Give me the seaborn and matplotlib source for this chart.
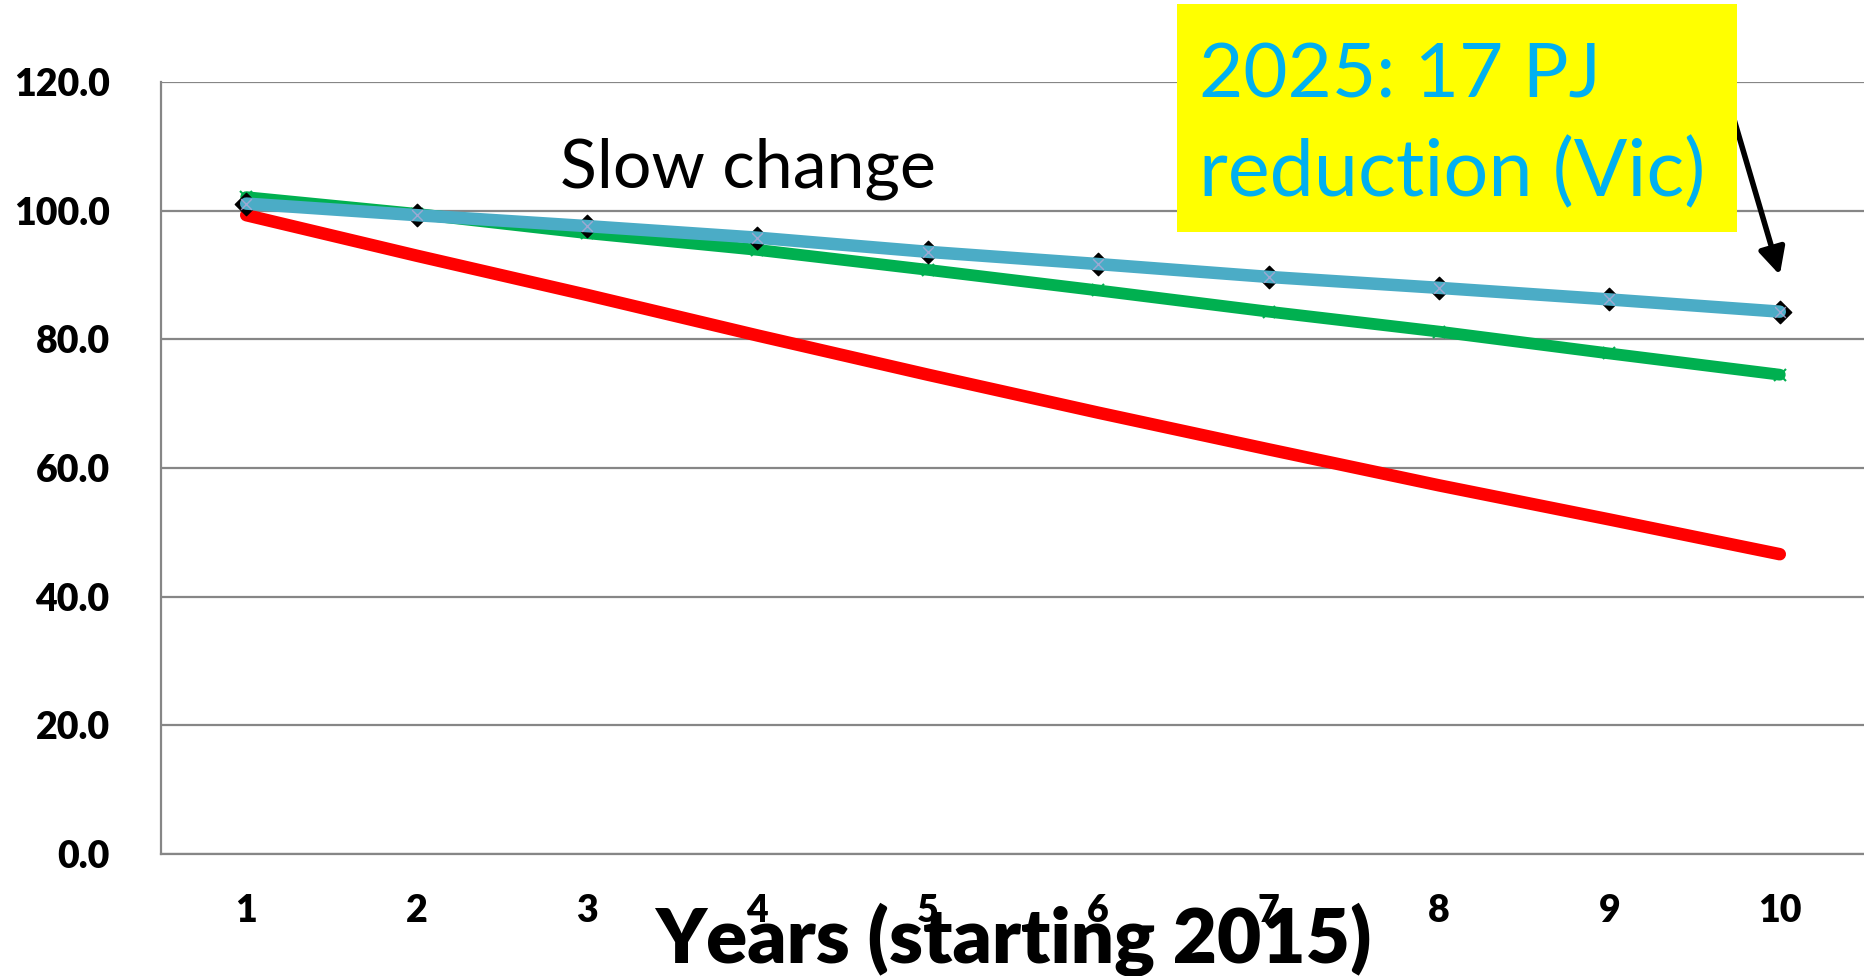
import numpy as np
import pandas as pd
import matplotlib
matplotlib.use('Agg')
import matplotlib.pyplot as plt
import matplotlib.patches as mpatches
import seaborn as sns

# Données
years = [1, 2, 3, 4, 5, 6, 7, 8, 9, 10]
red_fast = [99.3, 93.0, 86.9, 80.6, 74.5, 68.6, 62.9, 57.3, 52.0, 46.6]
green_mid = [102.1, 99.5, 96.5, 93.9, 90.8, 87.6, 84.3, 81.2, 77.8, 74.5]
blue_slow = [101.1, 99.3, 97.6, 95.8, 93.6, 91.7, 89.7, 88.0, 86.2, 84.3]
y_ticks = [0, 20, 40, 60, 80, 100, 120]

sns.set_style("white")
plt.rcParams['font.family'] = ['Lato', 'DejaVu Sans']
plt.rcParams['text.color'] = 'black'
plt.rcParams['xtick.labelcolor'] = 'black'
plt.rcParams['ytick.labelcolor'] = 'black'

fig = plt.figure(figsize=(18.65, 9.76), dpi=100)
ax = fig.add_axes([161 / 1865, 0.125, 1 - 161 / 1865, 0.916 - 0.125])

# courbes : rouge, verte, puis bleue au-dessus
sns.lineplot(x=years, y=red_fast, color='#FF0000', linewidth=9,
             solid_capstyle='round', ax=ax, zorder=3)
sns.lineplot(x=years, y=green_mid, color='#00B050', linewidth=8.5,
             solid_capstyle='round', marker='x', markersize=9,
             markeredgecolor='#00B050', markeredgewidth=1.5, ax=ax, zorder=4)
ax.scatter(years, blue_slow, marker='D', s=130, color='black', zorder=5)
sns.lineplot(x=years, y=blue_slow, color='#4BACC6', linewidth=9,
             solid_capstyle='round', ax=ax, zorder=6)
ax.scatter(years, blue_slow, marker='x', s=60, color='#B4A7D6',
           linewidths=1, zorder=7, alpha=0.8)

ax.set_xlim(0.5, 10.5)
ax.set_ylim(0, 120)
ax.set_yticks(y_ticks)
ax.set_yticklabels([f'{v:.1f}' for v in y_ticks], fontsize=27, fontweight='heavy')
ax.set_xticks(years)
ax.set_xticklabels([str(y) for y in years], fontsize=27, fontweight='heavy')
ax.set_xticks(np.arange(0.5, 11, 1), minor=True)
ax.tick_params(axis='x', which='major', length=0, pad=29)
ax.tick_params(axis='x', which='minor', length=14, width=1.5, color='#868686')
ax.tick_params(axis='y', length=14, width=1.5, color='#868686', pad=23)

ax.yaxis.grid(True, color='#868686', linewidth=1.6)
ax.xaxis.grid(False)
for side in ['top', 'right']:
    ax.spines[side].set_visible(False)
for side in ['left', 'bottom']:
    ax.spines[side].set_color('#868686')
    ax.spines[side].set_linewidth(1.6)

ax.set_xlabel('')
ax.set_ylabel('')

# titre de l'axe x, chevauchant les étiquettes
fig.text(0.5 + 161 / 1865 / 2, 1 - 963 / 976, 'Years (starting 2015)',
         fontsize=55, fontweight='heavy', ha='center', va='baseline')

ax.text(2.84, 103.6, 'Slow change', fontsize=49, ha='left', va='baseline')

# encadré jaune
box = mpatches.Rectangle((1177 / 1865, 1 - 232 / 976), 560 / 1865, 228 / 976,
                         transform=fig.transFigure, facecolor='#FFFF00',
                         edgecolor='none', zorder=10)
fig.add_artist(box)
fig.text(1199 / 1865, 1 - 97 / 976, '2025: 17 PJ', fontsize=55,
         color='#00B0F0', va='baseline', zorder=11)
fig.text(1199 / 1865, 1 - 196 / 976, 'reduction (Vic)', fontsize=57,
         color='#00B0F0', va='baseline', zorder=11)

ax.annotate('', xy=(10, 90.0), xytext=(9.73, 114.3),
            arrowprops=dict(arrowstyle='-|>', color='black', lw=4,
                            mutation_scale=40, shrinkA=0, shrinkB=0),
            zorder=12, annotation_clip=False)

plt.savefig('out.png', dpi=100)
